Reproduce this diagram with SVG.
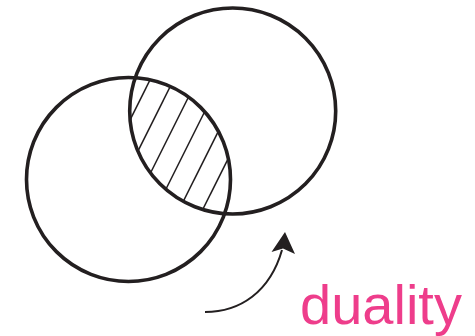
<svg xmlns="http://www.w3.org/2000/svg" width="475" height="336" viewBox="0 0 475 336">
<style>
.ring{fill:none;stroke:#231F20;stroke-width:3.6}
.hatch{stroke:#231F20;stroke-width:1.5}
.conn{fill:none;stroke:#231F20;stroke-width:2}
.label{font-family:"Liberation Sans",Arial,sans-serif;font-size:56px;fill:#EE3D8B}
</style>
<defs>
<clipPath id="clipA"><circle cx="128.5" cy="179.5" r="102"/></clipPath>
<clipPath id="clipB"><circle cx="232.7" cy="111" r="103"/></clipPath>
</defs>
<g id="hatching" clip-path="url(#clipA)">
<g clip-path="url(#clipB)">
<line class="hatch" x1="160" y1="60" x2="75" y2="230"/>
<line class="hatch" x1="183.5" y1="60" x2="98.5" y2="230"/>
<line class="hatch" x1="207" y1="60" x2="122" y2="230"/>
<line class="hatch" x1="230.5" y1="60" x2="145.5" y2="230"/>
<line class="hatch" x1="254" y1="60" x2="169" y2="230"/>
<line class="hatch" x1="277.5" y1="60" x2="192.5" y2="230"/>
</g>
</g>
<g id="circleA"><circle class="ring" cx="128.5" cy="179.5" r="102"/></g>
<g id="circleB"><circle class="ring" cx="232.7" cy="111" r="103"/></g>
<g id="connectors">
<path class="conn" d="M205,312 C240,312 270,292 282,250"/>
<polygon points="285,232 295,254 283,248.5 271.5,252" fill="#231F20"/>
</g>
<g id="label"><text class="label" x="300" y="324">duality</text></g>
</svg>
